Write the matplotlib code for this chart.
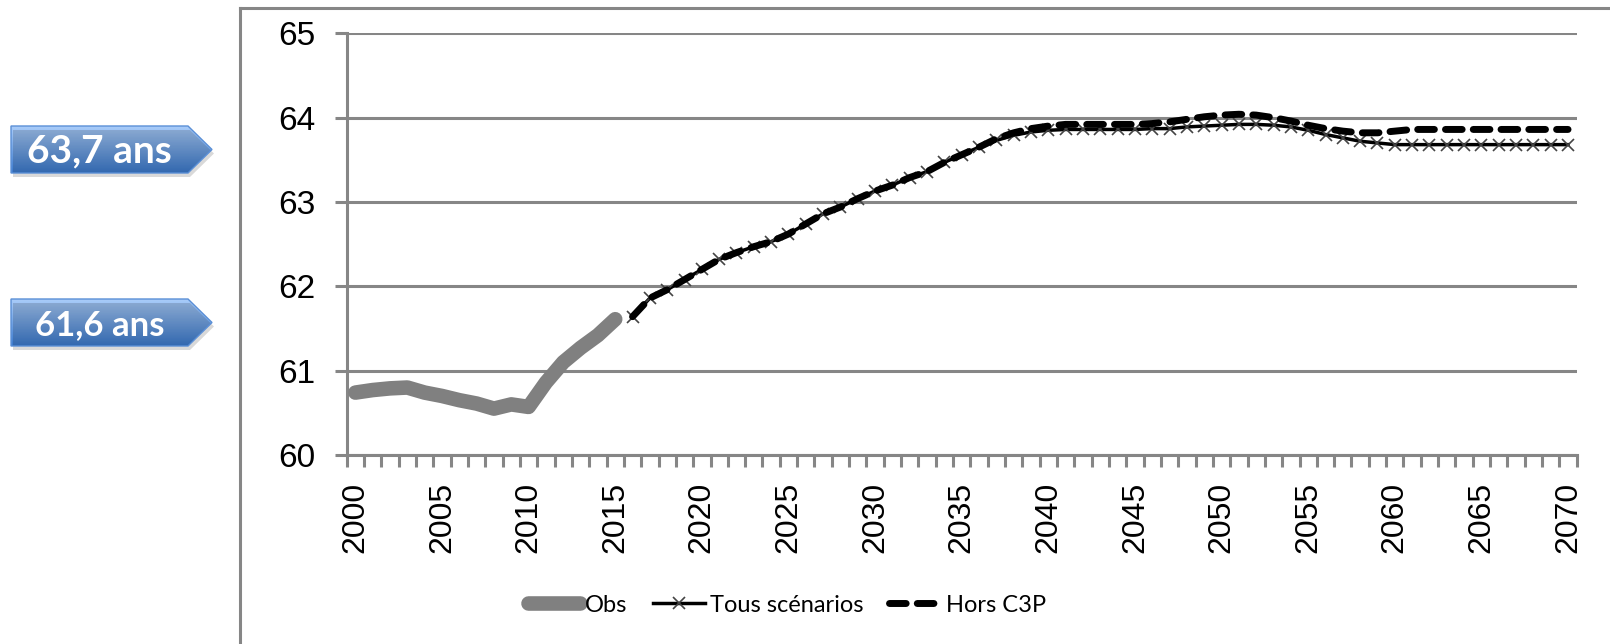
import numpy as np
import matplotlib
matplotlib.use("Agg")
import matplotlib.pyplot as plt
from matplotlib import font_manager
from matplotlib.patches import Polygon
from matplotlib.lines import Line2D
from matplotlib.colors import LinearSegmentedColormap

# Données : âge moyen de départ à la retraite
annees_obs = list(range(2000, 2016))
obs = [60.74, 60.77, 60.79, 60.80, 60.74, 60.70, 60.65, 60.61,
       60.55, 60.60, 60.57, 60.86, 61.10, 61.27, 61.42, 61.61]

annees_proj = list(range(2016, 2071))
tous_scenarios = [61.64, 61.86, 61.96, 62.08, 62.20, 62.32, 62.40, 62.47, 62.53, 62.62,
                  62.74, 62.86, 62.94, 63.04, 63.13, 63.20, 63.29, 63.36, 63.47, 63.56,
                  63.65, 63.73, 63.79, 63.83, 63.85, 63.86, 63.86, 63.86, 63.86, 63.86,
                  63.87, 63.87, 63.89, 63.90, 63.91, 63.92, 63.92, 63.91, 63.89, 63.85,
                  63.80, 63.76, 63.72, 63.70, 63.68, 63.68, 63.68, 63.68, 63.68, 63.68,
                  63.68, 63.68, 63.68, 63.68, 63.68]
hors_c3p = [61.64, 61.86, 61.96, 62.08, 62.20, 62.32, 62.40, 62.47, 62.53, 62.62,
            62.74, 62.86, 62.94, 63.04, 63.13, 63.20, 63.29, 63.36, 63.47, 63.56,
            63.65, 63.75, 63.82, 63.87, 63.90, 63.92, 63.92, 63.92, 63.92, 63.92,
            63.93, 63.95, 63.98, 64.01, 64.03, 64.04, 64.03, 64.00, 63.96, 63.91,
            63.87, 63.84, 63.82, 63.82, 63.84, 63.86, 63.86, 63.86, 63.86, 63.86,
            63.86, 63.86, 63.86, 63.86, 63.86]

noms_series = ["Obs", "Tous scénarios", "Hors C3P"]
graduations_y = [60, 61, 62, 63, 64, 65]
graduations_x = list(range(2000, 2071, 5))


def police(noms):
    # première police installée de la liste
    for nom in noms:
        try:
            font_manager.findfont(font_manager.FontProperties(family=nom), fallback_to_default=False)
            return nom
        except ValueError:
            continue
    return "DejaVu Sans"


police_axes = police(["Liberation Sans", "Arial"])
police_legende = police(["Liberation Sans Narrow", "Lato"])
taille_legende = 18 if police_legende == "Liberation Sans Narrow" else 17
police_fleche = police(["Lato", "Liberation Sans"])

GRIS = "#868686"
W, H = 1610, 644

fig = plt.figure(figsize=(W / 100, H / 100), dpi=100)
ax = fig.add_axes([346.7 / W, 1 - 455 / H, 1230 / W, 421.7 / H])

ax.plot(annees_obs, obs, color="#808080", lw=10.5, solid_capstyle="round",
        solid_joinstyle="round", label=noms_series[0], zorder=3)
ax.plot(annees_proj, tous_scenarios, color="black", lw=2.5, marker="x", ms=9,
        mec="#444444", mew=1.2, label=noms_series[1], zorder=4)
ax.plot(annees_proj, hors_c3p, color="black", lw=5, dashes=(2.4, 1.6),
        dash_capstyle="round", label=noms_series[2], zorder=5)

ax.set_xlim(1999.5, 2070.5)
ax.set_ylim(60, 65)
ax.set_yticks(graduations_y)
ax.set_xticks(graduations_x)
ax.set_xticks(np.arange(1999.5, 2071, 1), minor=True)
ax.set_xticklabels([str(a) for a in graduations_x], rotation=90,
                   fontsize=23, family=police_axes)
ax.set_yticklabels([str(v) for v in graduations_y], fontsize=24, family=police_axes)

ax.yaxis.grid(True, color=GRIS, lw=2.2)
ax.set_axisbelow(True)
for cote in ["top", "right"]:
    ax.spines[cote].set_visible(False)
for cote in ["left", "bottom"]:
    ax.spines[cote].set_color(GRIS)
    ax.spines[cote].set_linewidth(2.2)
ax.tick_params(axis="x", which="major", length=0, pad=19)
ax.tick_params(axis="x", which="minor", length=8.6, width=2.2, color=GRIS, direction="out")
ax.tick_params(axis="y", length=8.6, width=2.2, color=GRIS, pad=14)

# Légende sous le graphique
leg = fig.legend(loc="center left", bbox_to_anchor=(528 / W, 1 - 605 / H), ncol=3,
                 frameon=False, borderpad=0, borderaxespad=0, handlelength=2.2,
                 handletextpad=0.2, columnspacing=1.1,
                 prop={"family": police_legende, "size": taille_legende})

# Cadre de la zone de graphique
fig.add_artist(Line2D([240 / W, 240 / W], [0, 1 - 8 / H], color=GRIS, lw=2.2))
fig.add_artist(Line2D([240 / W, 1], [1 - 8 / H, 1 - 8 / H], color=GRIS, lw=2.2))

# Flèches bleues avec les valeurs
ov = fig.add_axes([0, 0, 1, 1])
ov.patch.set_visible(False)
ov.axis("off")
degrade = LinearSegmentedColormap.from_list("bleu", ["#a9ccf9", "#3c7bcf"])


def fleche(texte, taille, x0, x1, xpointe, yhaut, ybas):
    ymil = (yhaut + ybas) / 2
    pts = [(x0, H - yhaut), (x1, H - yhaut), (xpointe, H - ymil), (x1, H - ybas), (x0, H - ybas)]
    ombre = Polygon([(x + 2, y - 4) for x, y in pts], closed=True, facecolor="black",
                    alpha=0.15, edgecolor="none")
    ov.add_patch(ombre)
    forme = Polygon(pts, closed=True, facecolor="none", edgecolor="#5b8fd6", lw=1)
    ov.add_patch(forme)
    im = ov.imshow(np.linspace(0, 1, 100).reshape(-1, 1), cmap=degrade, aspect="auto",
                   extent=(x0, xpointe, H - ybas, H - yhaut), origin="upper")
    im.set_clip_path(forme)
    ov.text((x0 + x1) / 2, H - (ymil + 13), texte, color="white", fontweight="bold",
            fontsize=taille, ha="center", va="baseline", family=police_fleche)


fleche(f"{tous_scenarios[-1]:.1f}".replace(".", ",") + " ans", 28, 11, 188, 212, 126, 173)
fleche(f"{obs[-1]:.1f}".replace(".", ",") + " ans", 25, 11, 188, 212, 299, 346)
ov.set_xlim(0, W)
ov.set_ylim(0, H)

fig.savefig("out.png", dpi=100)
